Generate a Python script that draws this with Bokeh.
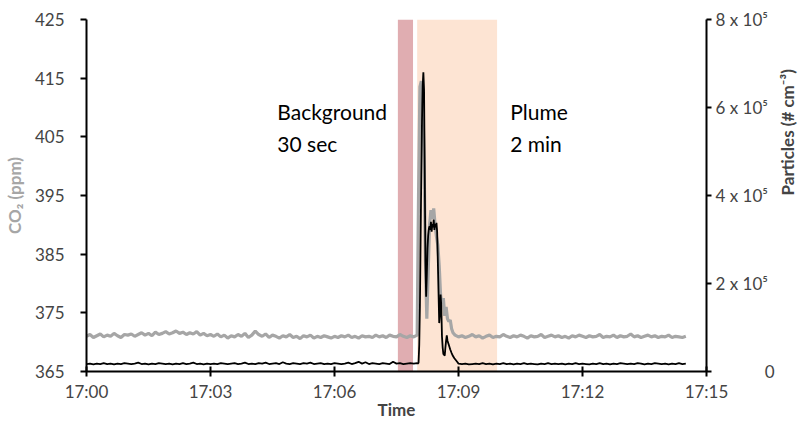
import math
from bokeh.plotting import figure
from bokeh.models import Range1d, LinearAxis, FixedTicker
from bokeh.core.properties import value
from bokeh.embed import file_html
from bokeh.resources import INLINE

FONT = "Lato"

# ---------------- data ----------------
# time in seconds after 17:00:00
co2_base1_t = list(range(0, 481, 5))
co2_base1 = [371.0, 371.3, 370.8, 371.1, 371.4, 370.9, 371.2, 371.0, 371.5, 371.1, 370.8, 371.3, 371.2,
             371.4, 371.0, 371.3, 371.6, 371.2, 371.5, 371.1, 371.7, 371.3, 371.5, 371.8, 371.4,
             371.6, 371.9, 371.5, 371.7, 371.3, 371.6, 371.4, 371.8, 371.2, 371.5, 371.1, 371.3,
             371.0, 371.4, 370.9, 371.2, 370.7, 371.1, 370.9, 371.3, 371.0, 371.5, 370.8, 371.2,
             371.9, 371.3, 371.0, 371.4, 370.8, 371.2, 371.0, 370.7, 371.1, 370.9, 371.3, 370.8,
             371.0, 370.6, 371.1, 370.9, 371.2, 370.7, 371.0, 370.8, 371.1, 370.9, 370.7, 371.0,
             370.8, 371.1, 370.9, 371.2, 370.8, 371.0, 370.7, 371.1, 370.9, 371.0, 370.8, 371.2,
             370.9, 371.1, 370.8, 371.2, 371.0, 370.9, 371.3, 371.0, 370.8, 371.1, 370.9, 371.2]
co2_peak_t = [482, 484, 486, 488, 490, 492, 494, 496, 498, 500, 502, 504, 506, 508, 510,
              512, 514, 516, 518, 520, 522, 524, 526, 528, 530, 532]
co2_peak = [395.0, 413.5, 414.5, 412.0, 401.0, 384.0, 374.0, 382.0, 390.0, 392.5, 391.0, 392.8, 390.0,
            388.0, 386.5, 383.0, 378.0, 376.5, 377.5, 374.5, 376.0, 374.0, 373.5, 373.8, 372.3, 371.6]
co2_base2_t = list(range(535, 871, 5))
co2_base2 = [371.2, 370.9, 371.1, 370.8, 371.0, 371.3, 370.9, 371.1, 370.7, 371.0,
             371.2, 370.8, 371.0, 370.9, 371.3, 371.0, 370.8, 371.1, 370.9, 371.2,
             371.0, 370.7, 371.1, 370.9, 371.0, 371.3, 370.8, 371.0, 371.2, 370.9,
             371.1, 370.8, 371.0, 370.7, 371.1, 370.9, 371.2, 371.0, 370.8, 371.1,
             370.9, 371.0, 371.3, 370.8, 371.0, 370.9, 371.2, 370.8, 371.1, 370.9,
             371.0, 371.4, 370.9, 371.1, 370.8, 371.0, 371.2, 370.9, 371.1, 370.8,
             371.0, 370.9, 371.2, 370.8, 371.0, 370.9, 370.8, 371.0]

# particle number concentration, thousands per cm3
pn_base1_t = list(range(0, 481, 5))
pn_base1 = [17, 18, 16, 18, 17, 19, 17, 18, 16, 18, 17, 19, 18,
            17, 18, 20, 17, 18, 16, 18, 17, 19, 18, 17, 18,
            16, 18, 17, 19, 17, 18, 20, 17, 18, 16, 18, 17,
            18, 17, 19, 18, 17, 18, 19, 17, 18, 20, 17, 18,
            17, 19, 18, 20, 17, 18, 19, 17, 21, 18, 17, 19,
            18, 17, 19, 18, 20, 17, 18, 19, 17, 18, 17, 19,
            18, 17, 18, 20, 17, 19, 22, 18, 21, 17, 19, 18,
            17, 19, 18, 17, 22, 18, 19, 17, 18, 19, 18, 19]
pn_peak_t = [481, 482, 483, 484, 485, 486, 487, 488, 489, 490, 491, 492, 493, 494, 495, 496, 497,
             498, 499, 500, 501, 502, 503, 504, 505, 506, 507, 508, 509, 510, 511, 512, 513, 514,
             515, 516, 517, 518, 519, 520, 521, 522, 523, 524, 526, 528, 530, 532, 534, 536, 538]
pn_peak = [18, 20, 60, 150, 300, 450, 570, 650, 680, 640, 450, 250, 170, 220, 280, 310, 325,
           330, 322, 340, 318, 335, 328, 345, 322, 335, 328, 338, 318, 250, 180, 110, 130, 175,
           150, 80, 55, 40, 38, 36, 55, 70, 82, 70, 60, 50, 42, 35, 30, 26, 22]
pn_base2_t = list(range(540, 871, 5))
pn_base2 = [18, 17, 18, 16, 17, 18, 17, 19, 17,
            18, 16, 18, 17, 19, 17, 18, 16, 18, 17,
            19, 17, 18, 17, 16, 18, 17, 19, 17, 18,
            17, 18, 16, 18, 17, 19, 17, 18, 17, 16,
            18, 17, 19, 17, 18, 16, 18, 17, 19, 18,
            17, 18, 17, 19, 18, 16, 18, 17, 19, 18,
            17, 18, 16, 18, 17, 19, 17, 18]

co2_t = co2_base1_t + co2_peak_t + co2_base2_t
co2 = co2_base1 + co2_peak + co2_base2
pn_t = pn_base1_t + pn_peak_t + pn_base2_t
pn = [v * 1000 for v in pn_base1 + pn_peak + pn_base2]

# sampling windows (seconds after 17:00)
win_left = [452, 480]
win_right = [474, 596]
win_colors = ["#e0adb1", "#fde4d3"]

ann_text = ["Background\n30 sec", "Plume\n2 min"]
ann_x = [277, 615]

x_ticks = [0, 180, 360, 540, 720, 900]
x_labels = ["17:00", "17:03", "17:06", "17:09", "17:12", "17:15"]
co2_ticks = [365, 375, 385, 395, 405, 415, 425]
pn_ticks = [0, 200000, 400000, 600000, 800000]
pn_labels = ["\u2007\u2007\u2007\u2007\u20070", "2 x 10\u2075", "4 x 10\u2075", "6 x 10\u2075", "8 x 10\u2075"]

Y0, Y1 = 365, 425

# ---------------- figure ----------------
p = figure(width=812, height=422, output_backend="svg", toolbar_location=None,
           x_range=Range1d(0, 900), y_range=Range1d(Y0, Y1),
           min_border_left=86, min_border_right=106, min_border_top=19, min_border_bottom=51,
           x_axis_label="Time", y_axis_label="CO\u2082 (ppm)")
p.outline_line_color = None
p.grid.visible = False
p.background_fill_color = "white"
p.border_fill_color = "white"

p.quad(left=win_left, right=win_right, bottom=Y0, top=Y1, fill_color=win_colors, line_color=None)

p.line(co2_t, co2, line_color="#a6a6a6", line_width=3.2)
p.extra_y_ranges = {"pn": Range1d(0, 800000)}
p.line(pn_t, pn, line_color="black", line_width=1.8, y_range_name="pn")

p.text(x=ann_x, y=[Y1 - 13.5, Y1 - 13.5], text=ann_text, text_font=value(FONT), text_font_size="21px",
       text_baseline="top", text_align="left", text_color="black", text_line_height=1.3)

# x axis
xa = p.xaxis[0]
xa.ticker = FixedTicker(ticks=x_ticks)
xa.major_label_overrides = dict(zip(x_ticks, x_labels))
xa.minor_tick_line_color = None
xa.major_tick_in = 5
xa.major_tick_out = 5
xa.axis_line_width = 2
xa.major_tick_line_width = 2
xa.major_label_standoff = 4
xa.axis_label_standoff = -6
xa.major_label_text_font = FONT
xa.major_label_text_font_size = "17px"
xa.axis_label_text_font = FONT
xa.axis_label_text_font_size = "17px"
xa.axis_label_text_font_style = "bold"

# left axis
ya = p.yaxis[0]
ya.ticker = FixedTicker(ticks=co2_ticks)
ya.minor_tick_line_color = None
ya.major_tick_in = 0
ya.major_tick_out = 6
ya.axis_line_width = 2
ya.major_tick_line_width = 2
ya.major_label_standoff = 16
ya.axis_label_standoff = 7
ya.major_label_text_font = FONT
ya.major_label_text_font_size = "17px"
ya.axis_label_text_font = FONT
ya.axis_label_text_font_size = "17px"
ya.axis_label_text_font_style = "bold"
ya.axis_label_text_color = "#a6a6a6"

# right axis
ra = LinearAxis(y_range_name="pn", axis_label="Particles (# cm\u207b\u00b3)",
                ticker=FixedTicker(ticks=pn_ticks))
ra.major_label_overrides = dict(zip(pn_ticks, pn_labels))
ra.minor_tick_line_color = None
ra.major_tick_in = 0
ra.major_tick_out = 5
ra.axis_line_width = 2
ra.major_tick_line_width = 2
ra.major_label_standoff = 4
ra.axis_label_standoff = 10
ra.axis_label_orientation = math.pi / 2
ra.major_label_text_font = FONT
ra.major_label_text_font_size = "17px"
ra.axis_label_text_font = FONT
ra.axis_label_text_font_size = "17px"
ra.axis_label_text_font_style = "bold"
p.add_layout(ra, "right")

open("out.html", "w").write(file_html(p, INLINE))
